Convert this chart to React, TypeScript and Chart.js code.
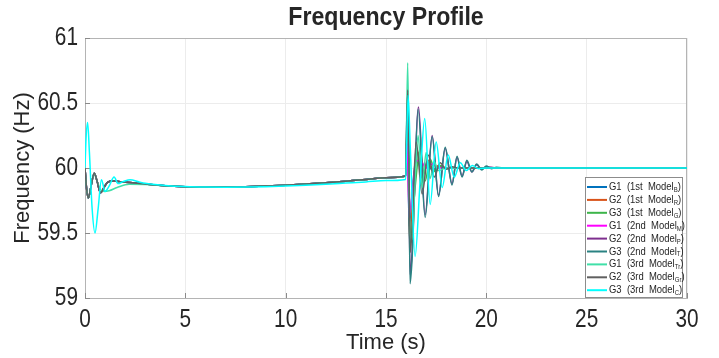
import { useEffect, useRef } from 'react';
import { Chart, registerables } from 'chart.js';

Chart.register(...registerables);

const FONT = '"Liberation Sans", Arial, sans-serif';

const chartTitle = 'Frequency Profile';
const xLabel = 'Time (s)';
const yLabel = 'Frequency (Hz)';
const xMin = 0;
const xMax = 30;
const xStep = 5;
const yMin = 59;
const yMax = 61;
const yStep = 0.5;

const genNames = ['G1', 'G2', 'G3', 'G1', 'G2', 'G3', 'G1', 'G2', 'G3'];
const modelNames = ['1st', '1st', '1st', '2nd', '2nd', '2nd', '3rd', '3rd', '3rd'];
const modelSubs = ['B', 'R', 'G', 'M', 'P', 'T', 'Tr', 'Gr', 'C'];
const seriesColors = ['#0072BD', '#D95319', '#3DB54A', '#FF00FF', '#7E2F8E', '#2A8282', '#40E0A8', '#606060', '#00FFFF'];

// pre-disturbance behaviour (t = 0 .. 16 s)
const preCommon: number[][] = [
  [0, 60.0], [0.08, 59.84], [0.17, 59.77], [0.3, 59.86], [0.46, 59.96], [0.6, 59.9], [0.77, 59.81],
  [0.95, 59.85], [1.12, 59.89], [1.4, 59.9], [1.8, 59.895], [2.5, 59.885], [3, 59.876], [4, 59.863],
  [5, 59.856], [6, 59.853], [7, 59.853], [8, 59.856], [9, 59.861], [10, 59.868], [11, 59.877],
  [12, 59.887], [13, 59.899], [14, 59.911], [15, 59.925], [15.98, 59.938],
];
const preG1Third: number[][] = [
  [0, 60.0], [0.08, 59.84], [0.17, 59.77], [0.3, 59.86], [0.46, 59.96], [0.6, 59.9], [0.75, 59.84],
  [0.95, 59.82], [1.2, 59.825], [1.6, 59.85], [2.2, 59.875], [3, 59.874], [4, 59.863],
  [5, 59.856], [6, 59.853], [7, 59.853], [8, 59.856], [9, 59.861], [10, 59.868], [11, 59.877],
  [12, 59.887], [13, 59.899], [14, 59.911], [15, 59.925], [15.98, 59.936],
];
const preG3Third: number[][] = [
  [0, 60.0], [0.05, 60.22], [0.13, 60.35], [0.22, 60.12], [0.35, 59.7], [0.5, 59.5], [0.65, 59.68],
  [0.82, 59.91], [1.0, 59.82], [1.2, 59.86], [1.45, 59.93], [1.65, 59.88], [1.9, 59.895], [2.25, 59.91],
  [2.7, 59.892], [3, 59.882], [4, 59.866], [5, 59.857], [6, 59.853], [7, 59.852], [8, 59.853],
  [9, 59.856], [10, 59.861], [11, 59.867], [12, 59.875], [13, 59.884], [14, 59.893], [15, 59.903],
  [15.98, 59.912],
];

// post-disturbance behaviour (t = 16 .. 30 s)
const postG1First: number[][] = [
  [16.06, 60.35], [16.15, 59.55], [16.35, 59.9], [16.55, 60.12], [16.8, 59.92], [17.05, 60.05],
  [17.3, 59.98], [17.6, 60.01], [18, 60.0], [30, 60.0],
];
const postG2First: number[][] = [
  [16.07, 60.4], [16.17, 59.45], [16.4, 59.95], [16.6, 60.12], [16.85, 59.95], [17.1, 60.06],
  [17.35, 59.97], [17.6, 60.02], [17.9, 60.0], [30, 60.0],
];
const postG3First: number[][] = [
  [16.07, 60.45], [16.18, 59.4], [16.45, 59.85], [16.7, 60.15], [16.95, 59.9], [17.2, 60.07],
  [17.45, 59.97], [17.7, 60.02], [18, 60.0], [30, 60.0],
];
const postG1Second: number[][] = [
  [16.06, 60.2], [16.15, 59.62], [16.3, 59.8], [16.5, 60.05], [16.7, 60.06], [17.0, 60.0],
  [17.3, 60.03], [17.6, 60.0], [18, 60.0], [30, 60.0],
];
const postG2Second: number[][] = [
  [16.06, 60.5], [16.1, 60.45], [16.2, 59.18], [16.3, 59.35], [16.62, 60.47], [16.95, 59.64],
  [17.3, 60.25], [17.62, 59.79], [17.95, 60.15], [18.29, 59.88], [18.54, 60.08], [18.79, 59.94],
  [19.03, 60.05], [19.28, 59.97], [19.52, 60.025], [19.77, 59.99], [20.0, 60.01], [20.5, 60.0], [30, 60.0],
];
const postG3Second: number[][] = [
  [16.06, 60.55], [16.1, 60.5], [16.2, 59.11], [16.3, 59.3], [16.6, 60.45], [16.95, 59.62],
  [17.3, 60.24], [17.62, 59.78], [17.95, 60.16], [18.29, 59.87], [18.54, 60.09], [18.79, 59.93],
  [19.03, 60.06], [19.28, 59.97], [19.52, 60.03], [19.77, 59.985], [20.0, 60.015], [20.25, 59.995],
  [20.5, 60.005], [21, 60.0], [30, 60.0],
];
const postG1Third: number[][] = [
  [16.08, 60.81], [16.2, 59.5], [16.3, 59.45], [16.45, 59.9], [16.6, 60.25], [16.8, 59.85],
  [17.0, 60.12], [17.2, 59.92], [17.4, 60.05], [17.6, 59.98], [18, 60.0], [30, 60.0],
];
const postG2Third: number[][] = [
  [16.08, 60.6], [16.22, 59.35], [16.5, 60.2], [16.8, 59.8], [17.1, 60.1], [17.4, 59.93],
  [17.7, 60.04], [18.0, 59.99], [18.3, 60.01], [18.6, 60.0], [30, 60.0],
];
const postG3Third: number[][] = [
  [16.1, 60.56], [16.2, 60.2], [16.45, 59.32], [16.7, 59.9], [16.93, 60.38], [17.2, 59.72],
  [17.5, 60.2], [17.8, 59.85], [18.1, 60.1], [18.4, 59.93], [18.7, 60.04], [19.0, 59.98],
  [19.3, 60.02], [19.6, 59.995], [20, 60.0], [30, 60.0],
];

const seriesData: number[][][] = [
  preCommon.concat(postG1First),
  preCommon.concat(postG2First),
  preCommon.concat(postG3First),
  preCommon.concat(postG1Second),
  preCommon.concat(postG2Second),
  preCommon.concat(postG3Second),
  preG1Third.concat(postG1Third),
  preCommon.concat(postG2Third),
  preG3Third.concat(postG3Third),
];

function condensedText(ctx: any, text: string, x: number, y: number, align: string, font: string, factor: number) {
  ctx.save();
  ctx.translate(x, y);
  ctx.scale(factor, 1);
  ctx.font = font;
  ctx.textAlign = align;
  ctx.textBaseline = 'middle';
  ctx.fillText(text, 0, 0);
  ctx.restore();
}

const decorPlugin = {
  id: 'decor',
  beforeDatasetsDraw(chart: any) {
    const { ctx, chartArea } = chart;
    ctx.save();
    ctx.strokeStyle = '#b4b4b4';
    ctx.lineWidth = 1;
    ctx.strokeRect(chartArea.left + 0.5, chartArea.top + 0.5, chartArea.right - chartArea.left - 1, chartArea.bottom - chartArea.top);
    // inside tick marks
    ctx.strokeStyle = '#8a8a8a';
    const xs = chart.scales.x;
    const ys = chart.scales.y;
    xs.ticks.forEach((t: any) => {
      const px = Math.round(xs.getPixelForValue(t.value)) + 0.5;
      ctx.beginPath();
      ctx.moveTo(px, chartArea.bottom);
      ctx.lineTo(px, chartArea.bottom - 5);
      ctx.stroke();
    });
    ys.ticks.forEach((t: any) => {
      const py = Math.round(ys.getPixelForValue(t.value)) + 0.5;
      ctx.beginPath();
      ctx.moveTo(chartArea.left, py);
      ctx.lineTo(chartArea.left + 5, py);
      ctx.stroke();
    });
    ctx.restore();
  },
  afterDraw(chart: any) {
    const { ctx, chartArea } = chart;
    const xs = chart.scales.x;
    const ys = chart.scales.y;
    ctx.save();
    ctx.fillStyle = '#262626';
    // title
    condensedText(ctx, chartTitle, (chartArea.left + chartArea.right) / 2, 18, 'center', `bold 26px ${FONT}`, 0.89);
    // tick labels
    xs.ticks.forEach((t: any) => {
      condensedText(ctx, String(t.value), xs.getPixelForValue(t.value), 320, 'center', `26px ${FONT}`, 0.8);
    });
    ys.ticks.forEach((t: any) => {
      condensedText(ctx, String(t.value), chartArea.left - 7, ys.getPixelForValue(t.value), 'right', `26px ${FONT}`, 0.8);
    });

    // legend
    const boxRight = chartArea.right - 4;
    const boxBottom = chartArea.bottom;
    const boxW = 98;
    const rowH = 12.9;
    const boxH = 121;
    const boxLeft = boxRight - boxW;
    const boxTop = boxBottom - boxH;
    ctx.fillStyle = '#ffffff';
    ctx.fillRect(boxLeft, boxTop, boxW, boxH);
    ctx.strokeStyle = '#8c8c8c';
    ctx.lineWidth = 1;
    ctx.strokeRect(boxLeft + 0.5, boxTop + 0.5, boxW - 1, boxH - 1);
    genNames.forEach((g, i) => {
      const y = boxTop + 10 + i * rowH;
      ctx.strokeStyle = seriesColors[i];
      ctx.lineWidth = 2;
      ctx.beginPath();
      ctx.moveTo(boxLeft + 2, y);
      ctx.lineTo(boxLeft + 22, y);
      ctx.stroke();
      ctx.fillStyle = '#262626';
      const f = 0.86;
      const fs = 11;
      let x = boxLeft + 24;
      const main = `${g}  (${modelNames[i]}  Model`;
      ctx.font = `${fs}px ${FONT}`;
      const wMain = ctx.measureText(main).width * f;
      condensedText(ctx, main, x, y, 'left', `${fs}px ${FONT}`, f);
      x += wMain;
      ctx.font = `7px ${FONT}`;
      const wSub = ctx.measureText(modelSubs[i]).width * f;
      condensedText(ctx, modelSubs[i], x, y + 3, 'left', `7px ${FONT}`, f);
      x += wSub;
      condensedText(ctx, ')', x, y, 'left', `${fs}px ${FONT}`, f);
    });
    ctx.restore();
  },
};

export default function App() {
  const ref = useRef<HTMLCanvasElement | null>(null);
  useEffect(() => {
    if (!ref.current) return;
    const chart = new Chart(ref.current, {
      type: 'line',
      data: {
        datasets: seriesData.map((pts, i) => ({
          label: `${genNames[i]} (${modelNames[i]} Model${modelSubs[i]})`,
          data: pts.map(([x, y]) => ({ x, y })),
          borderColor: seriesColors[i],
          backgroundColor: seriesColors[i],
          borderWidth: 1.5,
          pointRadius: 0,
          cubicInterpolationMode: 'monotone',
          fill: false,
          order: seriesData.length - i,
        })),
      },
      options: {
        animation: false,
        responsive: false,
        maintainAspectRatio: false,
        layout: { padding: { top: 38, right: 32, left: 0, bottom: 0 } },
        plugins: { legend: { display: false }, title: { display: false }, tooltip: { enabled: false } },
        scales: {
          x: {
            type: 'linear',
            min: xMin,
            max: xMax,
            ticks: { stepSize: xStep, display: false },
            grid: { color: '#ececec', drawTicks: false },
            border: { display: true, color: '#b4b4b4' },
            title: { display: true, text: xLabel, font: { family: FONT, size: 22 }, color: '#262626', padding: { top: 0, bottom: 2 } },
            afterFit: (s: any) => { s.height = 60; },
          },
          y: {
            type: 'linear',
            min: yMin,
            max: yMax,
            ticks: { stepSize: yStep, display: false },
            grid: { color: '#ececec', drawTicks: false },
            border: { display: true, color: '#b4b4b4' },
            title: { display: true, text: yLabel, font: { family: FONT, size: 22 }, color: '#262626', padding: { top: 10, bottom: 0 } },
            afterFit: (s: any) => { s.width = 85; },
          },
        },
      },
      plugins: [decorPlugin],
    } as any);
    return () => chart.destroy();
  }, []);
  return (
    <div style={{ position: 'absolute', left: 0, top: 0, width: 719, height: 358 }}>
      <canvas ref={ref} width={719} height={358} style={{ display: 'block' }} />
    </div>
  );
}
